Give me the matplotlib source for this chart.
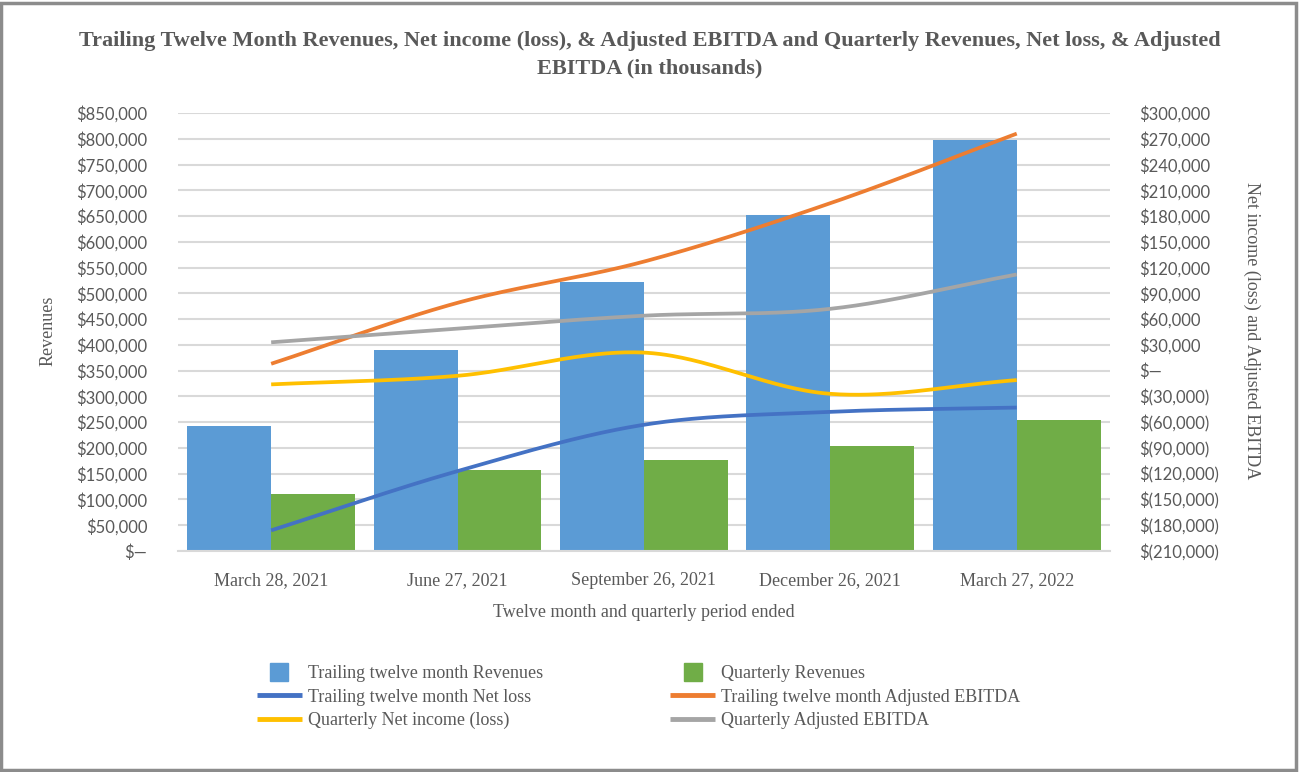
import numpy as np
import matplotlib
matplotlib.use("Agg")
import matplotlib.pyplot as plt
from matplotlib.patches import Rectangle
from matplotlib.lines import Line2D
from matplotlib.ticker import FuncFormatter, MultipleLocator

# data (in thousands of dollars)
periods = ["March 28, 2021", "June 27, 2021", "September 26, 2021",
           "December 26, 2021", "March 27, 2022"]
ttm_revenues = [243000, 390000, 522000, 653000, 798000]
quarterly_revenues = [111000, 157000, 177000, 204000, 254000]
ttm_net_loss = [-186000, -117000, -63000, -48000, -43000]
ttm_adj_ebitda = [8000, 79000, 127000, 195000, 276000]
quarterly_net_income = [-16000, -6000, 21000, -27000, -11000]
quarterly_adj_ebitda = [33000, 49000, 64000, 72000, 112000]

SERIF = "Liberation Serif"
SANS = "Lato"
TXT = "#595959"


def smooth(x, y, n=60):
    # cubic hermite with catmull-rom tangents (like excel "smoothed line")
    x = np.asarray(x, float)
    y = np.asarray(y, float)
    m = np.gradient(y, x)
    xs, ys = [], []
    for i in range(len(x) - 1):
        t = np.linspace(0, 1, n)
        h = x[i + 1] - x[i]
        h00 = 2 * t**3 - 3 * t**2 + 1
        h10 = t**3 - 2 * t**2 + t
        h01 = -2 * t**3 + 3 * t**2
        h11 = t**3 - t**2
        xs.append(x[i] + t * h)
        ys.append(h00 * y[i] + h10 * h * m[i] + h01 * y[i + 1] + h11 * h * m[i + 1])
    return np.concatenate(xs), np.concatenate(ys)


def left_fmt(v, pos):
    if abs(v) < 1e-6:
        return "$\u2014"
    return "${:,.0f}".format(v)


def right_fmt(v, pos):
    if abs(v) < 1e-6:
        return "$\u2014"
    if v < 0:
        return "$({:,.0f})".format(-v)
    return "${:,.0f}".format(v)


fig = plt.figure(figsize=(13, 7.72), dpi=100)
ax = fig.add_axes([0.1369, 0.2863, 0.7169, 0.5673])
ax2 = ax.twinx()

x = np.arange(len(periods))
w = 0.45
ax.bar(x - w / 2, ttm_revenues, w, color="#5b9bd5", zorder=2)
ax.bar(x + w / 2, quarterly_revenues, w, color="#70ad47", zorder=2)

ax.set_xlim(-0.5, len(periods) - 0.5)
ax.set_ylim(0, 850000)
ax.yaxis.set_major_locator(MultipleLocator(50000))
ax.yaxis.set_major_formatter(FuncFormatter(left_fmt))
ax.grid(axis="y", color="#d9d9d9", linewidth=1.5, zorder=0)
ax.set_axisbelow(True)

ax2.set_ylim(-210000, 300000)
ax2.yaxis.set_major_locator(MultipleLocator(30000))
ax2.yaxis.set_major_formatter(FuncFormatter(right_fmt))

lines = [
    (ttm_net_loss, "#4472c4"),
    (ttm_adj_ebitda, "#ed7d31"),
    (quarterly_net_income, "#ffc000"),
    (quarterly_adj_ebitda, "#a5a5a5"),
]
for vals, c in lines:
    sx, sy = smooth(x, vals)
    ax2.plot(sx, sy, color=c, linewidth=2.7, solid_capstyle="butt", zorder=3)

for a in (ax, ax2):
    for s in a.spines.values():
        s.set_visible(False)
ax.spines["bottom"].set_visible(True)
ax.spines["bottom"].set_color("#d9d9d9")
ax.spines["bottom"].set_linewidth(1.5)

ax.set_xticks(x)
ax.set_xticklabels(periods, fontfamily=SERIF, fontsize=13, color=TXT)
ax.tick_params(axis="x", length=0, pad=15)
ax.tick_params(axis="y", length=0, pad=22, labelsize=12, labelcolor=TXT)
ax2.tick_params(axis="y", length=0, pad=21, labelsize=12, labelcolor=TXT)
for lab in ax.get_yticklabels() + ax2.get_yticklabels():
    lab.set_fontfamily(SANS)

ax.set_xlabel("Twelve month and quarterly period ended", fontfamily=SERIF,
              fontsize=13, color=TXT, labelpad=11)
fig.text(0.037, 0.572, "Revenues", rotation=90, fontfamily=SERIF, fontsize=13,
         color=TXT, ha="center", va="center")
fig.text(0.963, 0.572, "Net income (loss) and Adjusted EBITDA", rotation=-90,
         fontfamily=SERIF, fontsize=13, color=TXT, ha="center", va="center")

fig.text(0.5, 0.929,
         "Trailing Twelve Month Revenues, Net income (loss), & Adjusted EBITDA and Quarterly Revenues, Net loss, & Adjusted\nEBITDA (in thousands)",
         fontfamily=SERIF, fontweight="bold", fontsize=16, color=TXT,
         ha="center", va="center", linespacing=1.45)

handles = [
    Line2D([], [], color="#5b9bd5", marker="s", markersize=13, linestyle="none"),
    Line2D([], [], color="#4472c4", linewidth=3.5, solid_capstyle="butt"),
    Line2D([], [], color="#ffc000", linewidth=3.5, solid_capstyle="butt"),
    Line2D([], [], color="#70ad47", marker="s", markersize=13, linestyle="none"),
    Line2D([], [], color="#ed7d31", linewidth=3.5, solid_capstyle="butt"),
    Line2D([], [], color="#a5a5a5", linewidth=3.5, solid_capstyle="butt"),
]
labels = [
    "Trailing twelve month Revenues",
    "Trailing twelve month Net loss",
    "Quarterly Net income (loss)",
    "Quarterly Revenues",
    "Trailing twelve month Adjusted EBITDA",
    "Quarterly Adjusted EBITDA",
]
fig.legend(handles, labels, ncol=2, loc="upper left", bbox_to_anchor=(0.191, 0.150),
           bbox_transform=fig.transFigure, frameon=False, borderpad=0,
           prop={"family": SERIF, "size": 13}, labelcolor=TXT,
           handlelength=2.45, columnspacing=7.08,
           labelspacing=0.35, handletextpad=0.33)

fig.patches.append(Rectangle((0.001, 0.002), 0.996, 0.994, transform=fig.transFigure,
                             fill=False, edgecolor="#8c8c8c", linewidth=2.5))

fig.savefig("out.png", dpi=100)
